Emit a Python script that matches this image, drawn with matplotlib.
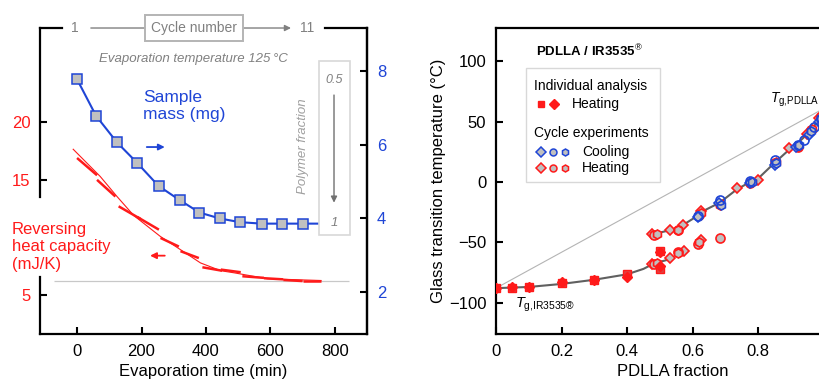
import numpy as np
import matplotlib
matplotlib.use("Agg")
import matplotlib.pyplot as plt
from matplotlib.patches import Rectangle

plt.rcParams['font.family'] = ['Liberation Sans', 'DejaVu Sans']
plt.rcParams['mathtext.fontset'] = 'custom'
plt.rcParams['mathtext.rm'] = 'Liberation Sans'
plt.rcParams['mathtext.it'] = 'Liberation Sans:italic'
plt.rcParams['mathtext.bf'] = 'Liberation Sans:bold'

RED = '#ff1a1a'
BLUE = '#1f45d6'
GREY_FILL = '#c0c0c0'
TXT_GREY = '#808080'

# ---- left panel: evaporation cycles ----
mass_time = [0, 59, 124, 186, 253, 318, 380, 443, 505, 573, 637, 700]
mass_mg = [7.77, 6.78, 6.06, 5.51, 4.88, 4.50, 4.16, 4.00, 3.90, 3.86, 3.86, 3.86]

# smooth fit of the reversing heat capacity
cp_fit_time = [-12, 72, 124, 176, 259, 321, 383, 446, 487, 591, 757]
cp_fit = [17.66, 15.29, 13.55, 11.9, 10.07, 8.93, 7.78, 7.1, 6.92, 6.4, 6.25]

# measured pieces, one per cycle (start/end)
seg_t0 = [0, 62, 129, 187, 259, 321, 389, 446, 513, 580, 640, 700]
seg_t1 = [62, 119, 197, 254, 316, 378, 450, 508, 580, 640, 700, 757]
seg_cp0 = [16.90, 15.00, 12.70, 11.77, 9.95, 8.80, 7.40, 7.20, 6.62, 6.45, 6.30, 6.22]
seg_cp1 = [15.40, 13.55, 11.60, 10.67, 9.20, 8.20, 7.10, 6.97, 6.48, 6.35, 6.20, 6.22]
cp_baseline = 6.2

# ---- right panel: Tg vs composition ----
ind_frac = [0, 0.05, 0.1, 0.2, 0.3, 0.4, 0.5, 0.5]
ind_sq = [-88, -88, -87, -84, -81, -76, -57, -72]
ind_dia = [-88, -87, -87, -83, -81, -79, -58, -70]

heat_dia_frac = [0.475, 0.53, 0.57, 0.625, 0.735, 0.80, 0.895, 0.95, 0.985,
                 0.475, 0.53, 0.575, 0.625]
heat_dia_tg = [-43, -40, -36, -24, -5, 2, 28, 40, 53,
               -68, -63, -57, -48]
heat_cir_frac = [0.482, 0.555, 0.62, 0.683, 0.775, 0.85, 0.92, 0.96, 0.99,
                 0.482, 0.555, 0.615, 0.683]
heat_cir_tg = [-44, -40, -27, -18, -1, 16, 29, 43, 54,
               -68, -58, -51, -46]
heat_hex_frac = [0.49, 0.555, 0.625, 0.683, 0.78, 0.855, 0.92, 0.965, 0.99,
                 0.49, 0.555, 0.62]
heat_hex_tg = [-43, -40, -26, -19, 0, 17, 30, 44, 55,
               -67, -59, -50]
cool_dia_frac = [0.615, 0.68, 0.775, 0.85, 0.915, 0.955, 0.985]
cool_dia_tg = [-29, -17, -1, 14, 29, 39, 50]
cool_cir_frac = [0.615, 0.683, 0.775, 0.852, 0.92, 0.94, 0.97, 0.99]
cool_cir_tg = [-28, -15, 1, 18, 31, 35, 46, 52]
cool_hex_frac = [0.685, 0.78, 0.855, 0.925, 0.96, 0.99]
cool_hex_tg = [-19, 0, 16, 31, 42, 53]

fit_lo_frac = [0, 0.1, 0.2, 0.3, 0.4, 0.45, 0.482, 0.53]
fit_lo_tg = [-88, -87, -84.5, -81, -76.5, -72, -67.5, -64]
fit_hi_frac = [0.482, 0.53, 0.556, 0.574, 0.615, 0.625, 0.683, 0.735, 0.775,
               0.80, 0.85, 0.895, 0.92, 0.95, 0.975, 1.0]
fit_hi_tg = [-43, -40, -38, -35, -28, -25, -17, -6, 0, 3, 16, 27, 32, 40, 48, 57]
tg_ir3535 = -88
tg_pdlla = 61

fig = plt.figure(figsize=(8.2, 3.88), dpi=100)

# ================= left panel =================
ax = fig.add_axes([0.0488, 0.1392, 0.3988, 0.7886])
ax.set_xlim(-115, 900)
ax.set_ylim(1.6, 28.2)
ax.hlines(cp_baseline, -73, 843, color='#c8c8c8', lw=0.9, zorder=1)
ax.plot(cp_fit_time, cp_fit, color=RED, lw=0.8, zorder=2)
for t0, t1, c0, c1 in zip(seg_t0, seg_t1, seg_cp0, seg_cp1):
    ax.plot([t0, t1], [c0, c1], color=RED, lw=1.8, solid_capstyle='butt', zorder=3)

ax.set_xticks([0, 200, 400, 600, 800])
ax.set_yticks([5, 15, 20])
ax.tick_params(direction='in', length=5, width=1.5, labelsize=12)
ax.tick_params(axis='y', colors='black', labelcolor=RED, pad=7)
ax.tick_params(axis='x', pad=7)
ax.set_xlabel('Evaporation time (min)', fontsize=12, labelpad=4)
for s in ['top', 'left']:
    ax.spines[s].set_visible(False)
for s in ['right', 'bottom']:
    ax.spines[s].set_linewidth(1.6)
# broken left and top frame
kw = dict(transform=ax.transAxes, color='black', lw=1.6, clip_on=False,
          solid_capstyle='projecting')
ax.plot([0, 0], [0, 0.186], **kw)
ax.plot([0, 0], [0.448, 1], **kw)
ax.plot([0, 0.067], [1, 1], **kw)
ax.plot([0.872, 1], [1, 1], **kw)

ax.text(-0.087, 0.285, 'Reversing\nheat capacity\n(mJ/K)', transform=ax.transAxes,
        color=RED, fontsize=12, ha='left', va='center', linespacing=1.2)
ax.annotate('', xy=(0.328, 0.256), xytext=(0.39, 0.256), xycoords='axes fraction',
            arrowprops=dict(arrowstyle='-|>', color=RED, lw=1.3, mutation_scale=9))

ax2 = ax.twinx()
ax2.set_ylim(0.87, 9.16)
ax2.plot(np.append(mass_time, 757), np.append(mass_mg, mass_mg[-1]),
         color=BLUE, lw=1.5, zorder=3)
ax2.plot(mass_time, mass_mg, ls='none', marker='s', ms=6.5, mfc=GREY_FILL,
         mec=BLUE, mew=1.1, zorder=4)
ax2.set_yticks([2, 4, 6, 8])
ax2.tick_params(direction='in', length=5, width=1.5, labelsize=12,
                labelcolor=BLUE, pad=7)
for s in ['top', 'left', 'bottom']:
    ax2.spines[s].set_visible(False)
ax2.spines['right'].set_linewidth(1.6)

ax2.text(0.316, 0.745, 'Sample\nmass (mg)', transform=ax2.transAxes, color=BLUE,
         fontsize=12.5, ha='left', va='center', linespacing=1.2)
ax2.annotate('', xy=(0.39, 0.611), xytext=(0.318, 0.611), xycoords='axes fraction',
             arrowprops=dict(arrowstyle='-|>', color=BLUE, lw=1.3, mutation_scale=9))

# cycle number header
ax2.text(0.107, 1.0, '1', transform=ax2.transAxes, color=TXT_GREY, fontsize=10,
         ha='center', va='center')
ax2.text(0.817, 1.0, '11', transform=ax2.transAxes, color=TXT_GREY, fontsize=10,
         ha='center', va='center')
ax2.annotate('', xy=(0.776, 1.0), xytext=(0.147, 1.0), xycoords='axes fraction',
             arrowprops=dict(arrowstyle='-|>', color=TXT_GREY, lw=1.0, mutation_scale=9))
ax2.text(0.471, 1.0, 'Cycle number', transform=ax2.transAxes, color=TXT_GREY,
         fontsize=10, ha='center', va='center', zorder=6,
         bbox=dict(boxstyle='square,pad=0.45', fc='white', ec='#b4b4b4', lw=1.4))
ax2.text(0.468, 0.9, 'Evaporation temperature 125\u2009\u00b0C', transform=ax2.transAxes,
         color=TXT_GREY, fontsize=9.5, style='italic', ha='center', va='center')

# polymer fraction scale
ax2.add_patch(Rectangle((0.853, 0.3235), 0.095, 0.5685, transform=ax2.transAxes,
                        fc='white', ec='#d8d8d8', lw=1.2, zorder=5))
ax2.text(0.899, 0.830, '0.5', transform=ax2.transAxes, color=TXT_GREY, fontsize=9,
         style='italic', ha='center', va='center', zorder=6)
ax2.annotate('', xy=(0.899, 0.42), xytext=(0.899, 0.79), xycoords='axes fraction',
             arrowprops=dict(arrowstyle='-|>', color='#707070', lw=1.0,
                             mutation_scale=9), zorder=6)
ax2.text(0.899, 0.363, '1', transform=ax2.transAxes, color=TXT_GREY, fontsize=9.5,
         style='italic', ha='center', va='center', zorder=6)
ax2.text(0.804, 0.615, 'Polymer fraction', transform=ax2.transAxes, color='#a0a0a0',
         fontsize=9.5, style='italic', rotation=90, ha='center', va='center')

# ================= right panel =================
bx = fig.add_axes([0.6049, 0.1392, 0.4317, 0.7894])
bx.set_xlim(0, 1.08)
bx.set_ylim(-126, 128)
bx.plot([0, 1], [tg_ir3535, tg_pdlla], color='#b4b4b4', lw=0.8, zorder=1)
bx.plot(fit_lo_frac, fit_lo_tg, color='#606060', lw=1.5, zorder=2)
bx.plot(fit_hi_frac, fit_hi_tg, color='#606060', lw=1.5, zorder=2)

mk = dict(ls='none', ms=6.5, mfc=GREY_FILL, mew=1.2, zorder=3)
bx.plot(heat_dia_frac, heat_dia_tg, marker='D', mec=RED, **dict(mk, ms=5.5))
bx.plot(heat_cir_frac, heat_cir_tg, marker='o', mec=RED, **mk)
bx.plot(heat_hex_frac, heat_hex_tg, marker='h', mec=RED, **mk)
bx.plot(cool_dia_frac, cool_dia_tg, marker='D', mec=BLUE, **dict(mk, ms=5.5))
bx.plot(cool_cir_frac, cool_cir_tg, marker='o', mec=BLUE, mfc='none', ls='none',
        ms=6.5, mew=1.2, zorder=4)
bx.plot(cool_hex_frac, cool_hex_tg, marker='h', mec=BLUE, **mk)
bx.plot(ind_frac, ind_sq, ls='none', marker='s', ms=6, color=RED, mfc='#e04040',
        mec=RED, zorder=5)
bx.plot(ind_frac, ind_dia, ls='none', marker='D', ms=5.5, color=RED, zorder=5)

bx.set_xticks([0, 0.2, 0.4, 0.6, 0.8, 1.0])
bx.set_xticklabels(['0', '0.2', '0.4', '0.6', '0.8', '1'])
bx.set_yticks([-100, -50, 0, 50, 100])
bx.tick_params(direction='in', length=5, width=1.5, labelsize=12)
bx.tick_params(axis='y', pad=7)
bx.tick_params(axis='x', pad=7)
bx.set_xlabel('PDLLA fraction', fontsize=12, labelpad=4)
bx.set_ylabel('Glass transition temperature (\u00b0C)', fontsize=12, labelpad=2)
for s in bx.spines.values():
    s.set_linewidth(1.6)

bx.text(0.775, 0.764, r'$T_{\rm g{,}PDLLA}$', transform=bx.transAxes, fontsize=10,
        ha='left', va='center')
bx.text(0.054, 0.095, r'$T_{\rm g{,}IR3535®}$', transform=bx.transAxes, fontsize=10.5,
        ha='left', va='center')
bx.text(0.113, 0.9216, r'PDLLA / IR3535$^{®}$', transform=bx.transAxes,
        fontsize=9.5, fontweight='bold', ha='left', va='center')

# legend box
bx.add_patch(Rectangle((0.0847, 0.4963), 0.3786, 0.3722, transform=bx.transAxes,
                       fc='white', ec='#d8d8d8', lw=1.0, zorder=6))
lt = dict(transform=bx.transAxes, fontsize=10, ha='left', va='center', zorder=7)
bx.text(0.108, 0.8097, 'Individual analysis', **lt)
bx.text(0.2147, 0.751, 'Heating', **lt)
bx.text(0.108, 0.657, 'Cycle experiments', **lt)
bx.text(0.243, 0.595, 'Cooling', **lt)
bx.text(0.243, 0.543, 'Heating', **lt)
lm = dict(transform=bx.transAxes, ls='none', clip_on=False, zorder=7)
bx.plot([0.127], [0.751], marker='s', ms=5, color=RED, **lm)
bx.plot([0.164], [0.751], marker='D', ms=5, color=RED, **lm)
for xm, m in zip([0.127, 0.161, 0.195], ['D', 'o', 'h']):
    bx.plot([xm], [0.595], marker=m, ms=5, mfc=GREY_FILL, mec=BLUE, mew=1.1, **lm)
    bx.plot([xm], [0.543], marker=m, ms=5, mfc=GREY_FILL, mec=RED, mew=1.1, **lm)

fig.savefig('out.png', dpi=100)
